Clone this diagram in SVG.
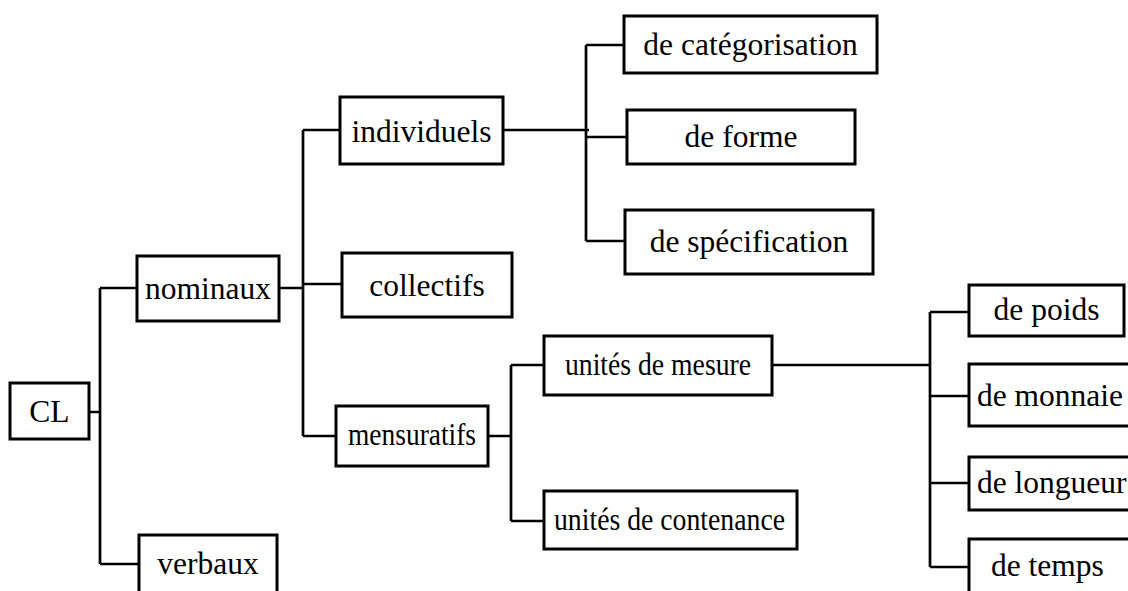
<svg xmlns="http://www.w3.org/2000/svg" width="1128" height="591" viewBox="0 0 1128 591">
<style>
rect{fill:#fff;stroke:#000;stroke-width:3}
text{font-size:31.5px;fill:#000;text-anchor:middle}
text.s{text-anchor:start}
#connectors path{fill:none;stroke:#000;stroke-width:2.7}
</style>
<rect x="0" y="0" width="1128" height="591" style="fill:#fff;stroke:none"/>
<g id="connectors">
<path d="M89 412H100M100 288V564M100 288H137M100 564H139"/>
<path d="M279 288H303M303 130V436M303 130H340M303 284H342M303 436H336"/>
<path d="M503 130H589M586 45V241M586 45H624M586 137H627M586 241H625"/>
<path d="M488 436H511M511 365V521M511 365H544M511 521H544"/>
<path d="M772 365H930M930 312V567M930 312H969M930 396H969M930 483H969M930 567H969"/>
</g>
<g font-family="'Liberation Serif', 'Times New Roman', Times, serif">
<g id="CL"><rect x="10" y="383" width="79" height="56"/><text x="49.5" y="422">CL</text></g>
<g id="nominaux"><rect x="137" y="256" width="142" height="65"/><text x="208" y="299">nominaux</text></g>
<g id="verbaux"><rect x="139" y="535" width="138" height="62"/><text x="208" y="574">verbaux</text></g>
<g id="individuels"><rect x="340" y="97" width="163" height="67"/><text x="421.5" y="142">individuels</text></g>
<g id="collectifs"><rect x="342" y="253" width="170" height="64"/><text x="427" y="296">collectifs</text></g>
<g id="mensuratifs"><rect x="336" y="406" width="152" height="60"/><text x="412" y="445" textLength="128" lengthAdjust="spacingAndGlyphs">mensuratifs</text></g>
<g id="categorisation"><rect x="624" y="16" width="253" height="57"/><text x="750.5" y="55">de catégorisation</text></g>
<g id="forme"><rect x="627" y="110" width="228" height="54"/><text x="741" y="147">de forme</text></g>
<g id="specification"><rect x="625" y="210" width="248" height="64"/><text x="749" y="252">de spécification</text></g>
<g id="unites-mesure"><rect x="544" y="336" width="228" height="59"/><text x="658" y="375" textLength="186" lengthAdjust="spacingAndGlyphs">unités de mesure</text></g>
<g id="unites-contenance"><rect x="544" y="491" width="253" height="58"/><text x="669.5" y="530" textLength="231" lengthAdjust="spacingAndGlyphs">unités de contenance</text></g>
<g id="poids"><rect x="969" y="285" width="155" height="51"/><text x="1046.5" y="320">de poids</text></g>
<g id="monnaie"><rect x="969" y="364" width="170" height="62"/><text class="s" x="977" y="406">de monnaie</text></g>
<g id="longueur"><rect x="969" y="457" width="170" height="53"/><text class="s" x="977" y="493">de longueur</text></g>
<g id="temps"><rect x="969" y="539" width="170" height="60"/><text class="s" x="991" y="576">de temps</text></g>
</g>
</svg>
